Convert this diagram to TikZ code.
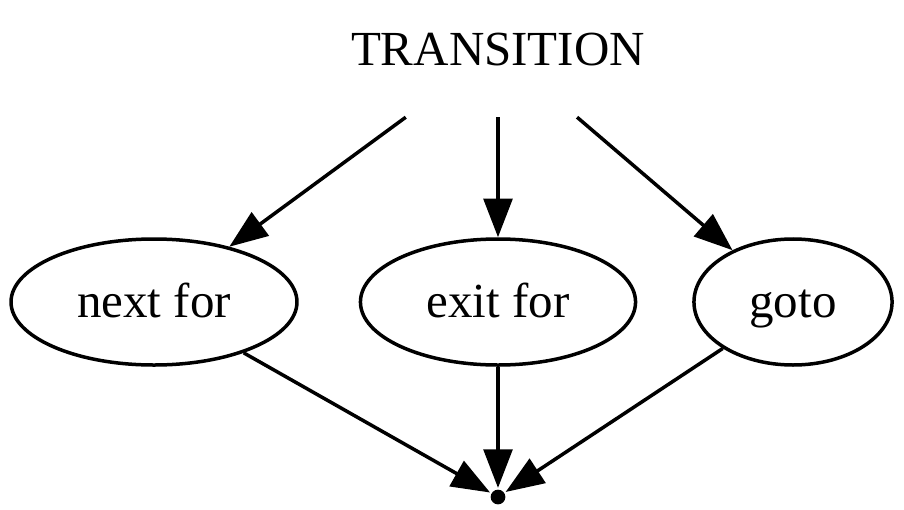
\documentclass[tikz,border=0pt]{standalone}
\usepackage{fontspec}
\setmainfont{Liberation Serif}
\usetikzlibrary{shapes.geometric,arrows.meta}
\begin{document}
\begin{tikzpicture}[x=0.2857pt,y=-0.2857pt,line width=1pt,
  font=\fontsize{14pt}{17pt}\selectfont,
  every node/.style={inner sep=0pt},
  state/.style={draw,ellipse,minimum height=36pt,text height=8.6pt,text depth=0pt},
  edge/.style={-{Triangle[length=11pt,width=8.2pt]}}]
\useasboundingbox (0,0) rectangle (904,509);
\node[minimum width=100pt,minimum height=37.7pt] (transition) at (498,49.5) {TRANSITION};
\node[state,minimum width=81.7pt] (nextfor) at (154,302) {next for};
\node[state,minimum width=78.6pt] (exitfor) at (498,302) {exit for};
\node[state,minimum width=56.6pt] (goto) at (793,302) {goto};
\node[circle,fill,minimum size=4.2pt] (join) at (498,497) {};
\draw[edge] (transition) -- (nextfor);
\draw[edge] (transition) -- (exitfor);
\draw[edge] (transition) -- (goto);
\draw[edge] (nextfor) -- (join);
\draw[edge] (exitfor) -- (join);
\draw[edge] (goto) -- (join);
\end{tikzpicture}
\end{document}
